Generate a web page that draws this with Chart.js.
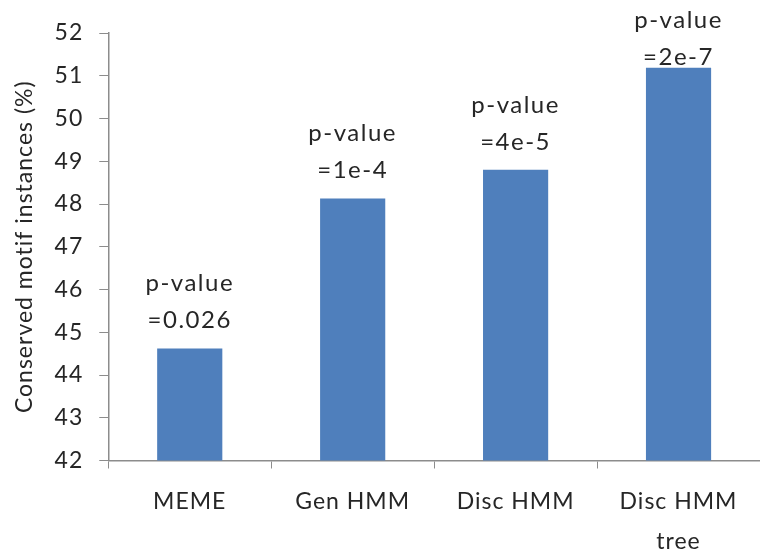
<!DOCTYPE html>
<html>
<head>
<meta charset="utf-8">
<script src="https://cdn.jsdelivr.net/npm/chart.js@4"></script>
<style>
  html, body { margin: 0; padding: 0; background: #fff; }
  #wrap { width: 760px; height: 557px; }
</style>
</head>
<body>
<div id="wrap"><canvas id="motifs"></canvas></div>
<script>
const methods = [['MEME'], ['Gen HMM'], ['Disc HMM'], ['Disc HMM', 'tree']]
const conserved = [44.62, 48.13, 48.8, 51.19]
const pValues = ['=0.026', '=1e-4', '=4e-5', '=2e-7']
const yTicks = [42, 43, 44, 45, 46, 47, 48, 49, 50, 51, 52]

const textColor = '#262626'
const axisGrey = '#8c8c8c'
const font = 'Lato, "Open Sans", "Liberation Sans", sans-serif'

// slightly spaced letters, closer to the original Calibri look
const spacing = {
  id: 'spacing',
  beforeUpdate(chart) { chart.ctx.letterSpacing = '1px' },
  beforeDraw(chart) { chart.ctx.letterSpacing = '1px' }
}

// p-value notes above each bar
const pLabels = {
  id: 'pLabels',
  afterDatasetsDraw(chart) {
    const ctx = chart.ctx
    const xs = chart.scales.x
    const ys = chart.scales.y
    ctx.save()
    ctx.fillStyle = textColor
    ctx.font = '24px ' + font
    ctx.letterSpacing = '1.5px'
    ctx.textAlign = 'center'
    ctx.textBaseline = 'middle'
    conserved.forEach((v, i) => {
      const x = xs.getPixelForValue(i)
      const y = Math.max(ys.getPixelForValue(v) - 28, chart.chartArea.top + 24)
      ctx.fillText('p-value', x, y - 37)
      ctx.fillText(pValues[i], x, y)
    })
    ctx.restore()
  }
}

const motifChart = new Chart(document.querySelector('#motifs'), {
  type: 'bar',
  data: {
    labels: methods,
    datasets: [{
      label: 'Conserved motif instances',
      data: conserved,
      backgroundColor: '#4f7fbc',
      borderWidth: 0,
      barPercentage: 0.4,
      categoryPercentage: 1
    }]
  },
  options: {
    responsive: true,
    maintainAspectRatio: false,
    animation: false,
    layout: { padding: { top: 33, right: 0, bottom: -18, left: 11 } },
    plugins: {
      legend: { display: false },
      tooltip: { enabled: false }
    },
    scales: {
      y: {
        min: 42,
        max: 52,
        afterBuildTicks: scale => { scale.ticks = yTicks.map(v => ({ value: v })) },
        grid: { drawOnChartArea: false, drawTicks: true, tickLength: 9, color: axisGrey },
        border: { color: axisGrey, width: 1.5 },
        ticks: { color: textColor, padding: 16, font: { size: 23, family: font } },
        title: {
          display: true,
          text: 'Conserved motif instances (%)',
          color: textColor,
          padding: { top: 0, bottom: 0 },
          font: { size: 23, family: font }
        }
      },
      x: {
        grid: { drawOnChartArea: false, drawTicks: true, tickLength: 8, offset: true, color: axisGrey },
        border: { color: axisGrey, width: 1.5 },
        ticks: { color: textColor, padding: 13, maxRotation: 0, font: { size: 23, family: font, lineHeight: 1.75 } }
      }
    }
  },
  plugins: [spacing, pLabels]
})
</script>
</body>
</html>
